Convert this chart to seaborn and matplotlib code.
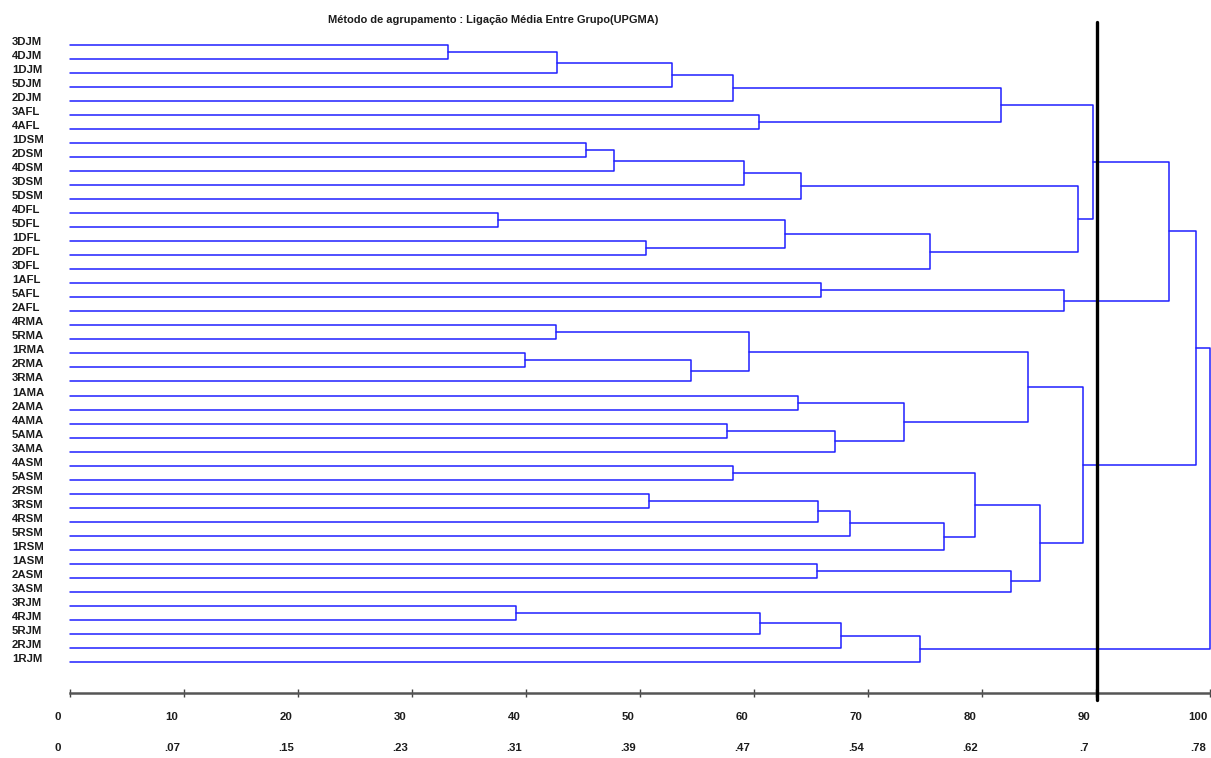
import matplotlib
matplotlib.use("Agg")
import matplotlib.pyplot as plt
from matplotlib import font_manager
from matplotlib.transforms import ScaledTranslation
import pandas as pd
import seaborn as sns

# Leaf order of the dendrogram, top to bottom
leaf_labels = [
    "3DJM", "4DJM", "1DJM", "5DJM", "2DJM", "3AFL", "4AFL", "1DSM", "2DSM",
    "4DSM", "3DSM", "5DSM", "4DFL", "5DFL", "1DFL", "2DFL", "3DFL", "1AFL",
    "5AFL", "2AFL", "4RMA", "5RMA", "1RMA", "2RMA", "3RMA", "1AMA", "2AMA",
    "4AMA", "5AMA", "3AMA", "4ASM", "5ASM", "2RSM", "3RSM", "4RSM", "5RSM",
    "1RSM", "1ASM", "2ASM", "3ASM", "3RJM", "4RJM", "5RJM", "2RJM", "1RJM",
]

# UPGMA merges: ids < 45 are leaves, id 45 + k is the cluster made by merge k
merge_left = [0, 45, 46, 47, 5, 48, 7, 51, 52, 53, 12, 14, 55, 57, 54, 50,
              17, 61, 60, 20, 22, 65, 64, 25, 27, 69, 68, 67, 30, 32, 74, 75,
              76, 73, 37, 79, 78, 72, 63, 40, 84, 85, 86, 83]
merge_right = [1, 2, 3, 4, 6, 49, 8, 9, 10, 11, 13, 15, 56, 16, 58, 59,
               18, 19, 62, 21, 23, 24, 66, 26, 28, 29, 70, 71, 31, 33, 34, 35,
               36, 77, 38, 39, 80, 81, 82, 41, 42, 43, 44, 87]
merge_height = [33.2, 42.7, 52.8, 58.2, 60.4, 81.7, 45.3, 47.7, 59.1, 64.1,
                37.5, 50.5, 62.7, 75.4, 88.4, 89.7, 65.9, 87.2, 96.4, 42.6,
                39.9, 54.5, 59.6, 63.9, 57.6, 67.1, 73.2, 84.0, 58.2, 50.8,
                65.6, 68.4, 76.7, 79.4, 65.5, 82.5, 85.1, 88.9, 98.8, 39.1,
                60.5, 67.6, 74.6, 100.0]

# Distance scale: rescaled (0-100) and original dissimilarity
scale_ticks = [0, 10, 20, 30, 40, 50, 60, 70, 80, 90, 100]
scale_labels = ["0", "10", "20", "30", "40", "50", "60", "70", "80", "90", "100"]
raw_labels = ["0", ".07", ".15", ".23", ".31", ".39", ".47", ".54", ".62", ".7", ".78"]
cut_level = 90.1

title = "Método de agrupamento : Ligação Média Entre Grupo(UPGMA)"

sns.set_theme(style="white")
available = {f.name for f in font_manager.fontManager.ttflist}
if "Liberation Sans Narrow" in available:
    families = ["Liberation Sans Narrow", "Liberation Sans", "DejaVu Sans"]
    fsize, tsize = 9.4, 9.0
else:
    families = ["Liberation Sans", "DejaVu Sans"]
    fsize, tsize = 8.2, 7.9
plt.rcParams["font.family"] = families
text_color = "#1c1c1c"

# Build the elbow segments of every merge
n = len(leaf_labels)
pos = {i: (0.0, float(i)) for i in range(n)}
rows = []
for k, (a, b, h) in enumerate(zip(merge_left, merge_right, merge_height)):
    xa, ya = pos[a]
    xb, yb = pos[b]
    for px, py in [(xa, ya), (h, ya), (h, yb), (xb, yb)]:
        rows.append({"link": k, "dist": px, "leaf": py})
    pos[n + k] = (h, (ya + yb) / 2.0)
links = pd.DataFrame(rows)

W, H = 1211, 758
fig = plt.figure(figsize=(W / 100, H / 100), dpi=100)
x0_px, x1_px = 70, 1210
top_px, axis_px = 20, 693
ax = fig.add_axes([x0_px / W, (H - axis_px) / H,
                   (x1_px - x0_px) / W, (axis_px - top_px) / H])

sns.lineplot(data=links, x="dist", y="leaf", units="link", estimator=None,
             sort=False, color="#1f1fff", linewidth=1.1, ax=ax, legend=False)
for line in ax.lines:
    line.set_clip_on(False)

# leaf row i sits at pixel 45 + 14.02 * i
row0, step = 45.0, 14.02
ax.set_xlim(0, 100)
ax.set_ylim((axis_px - row0) / step, (top_px - row0) / step)

# phenon line
ax.axvline(cut_level, ymin=-0.011, ymax=0.997, color="black", lw=2.4,
           clip_on=False, zorder=5)

# leaf labels
ax.set_yticks(range(n), leaf_labels)
ax.tick_params(axis="y", length=0, pad=(x0_px - 12) / 1.389)
for lbl in ax.get_yticklabels():
    lbl.set_ha("left")
    lbl.set_va("baseline")
    lbl.set_fontweight("bold")
    lbl.set_fontsize(fsize)
    lbl.set_color(text_color)

# rescaled distance axis
shift = ScaledTranslation(-12 / 100, 0, fig.dpi_scale_trans)
ax.set_xticks(scale_ticks, scale_labels)
ax.tick_params(axis="x", direction="inout", length=6, width=1.0,
               color="#444444", pad=10.5, bottom=True)
for lbl in ax.get_xticklabels():
    lbl.set_fontweight("bold")
    lbl.set_fontsize(fsize)
    lbl.set_color(text_color)
    lbl.set_transform(lbl.get_transform() + shift)

sec = ax.secondary_xaxis("bottom")
sec.set_xticks(scale_ticks, raw_labels)
sec.tick_params(axis="x", length=0, pad=36.0)
sec.spines["bottom"].set_visible(False)
for lbl in sec.get_xticklabels():
    lbl.set_fontweight("bold")
    lbl.set_fontsize(fsize)
    lbl.set_color(text_color)
    lbl.set_transform(lbl.get_transform() + shift)

ax.set_xlabel("")
ax.set_ylabel("")
for side in ["top", "right", "left"]:
    ax.spines[side].set_visible(False)
ax.spines["bottom"].set_color("#555555")
ax.spines["bottom"].set_linewidth(1.8)

fig.text(493 / W, 1 - 20 / H, title, ha="center", va="center",
         fontsize=tsize, fontweight="bold", color=text_color)

fig.savefig("out.png", dpi=100)
